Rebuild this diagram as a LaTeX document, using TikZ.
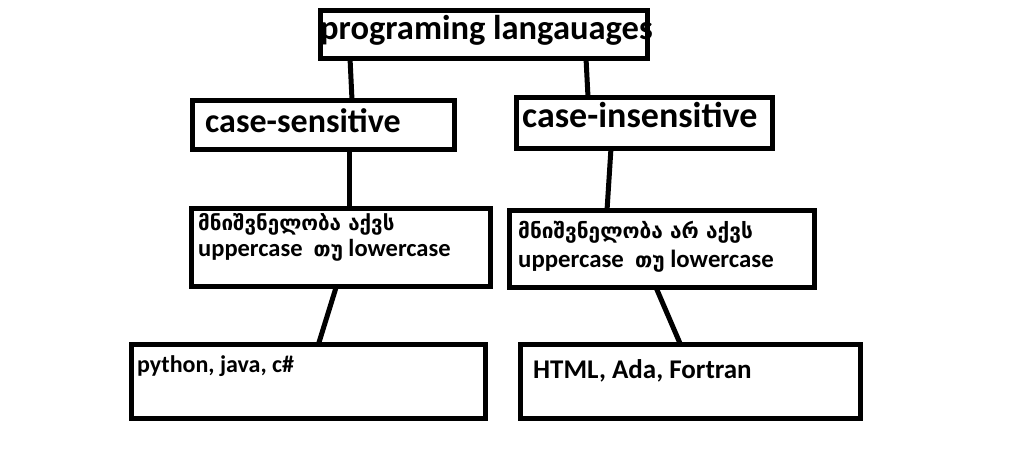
\documentclass[tikz,border=0pt]{standalone}
\usepackage{fontspec}
\setmainfont{Carlito}
\newfontfamily\geo[Scale=0.84]{DejaVu Sans}
\begin{document}
\begin{tikzpicture}[x=1pt,y=-1pt,
  box/.style={draw=black,line width=5pt,fill=white,inner sep=0pt,outer sep=0pt,minimum width=#1},
  lbl/.style={anchor=base west,inner sep=0pt,font=\bfseries},
  link/.style={draw=black,line width=5pt}]
\useasboundingbox[fill=white] (0,0) rectangle (1019,453);
% boxes
\node[box=327pt,minimum height=48pt] (top) at (483.5,34) {};
\node[box=261.5pt,minimum height=49pt] (cs) at (323.25,124.5) {};
\node[box=256.5pt,minimum height=51pt] (cis) at (644.25,122.5) {};
\node[box=299pt,minimum height=78pt] (m1) at (340.5,247) {};
\node[box=305pt,minimum height=77pt] (m2) at (661.5,249) {};
\node[box=354.5pt,minimum height=74pt] (b1) at (308.25,381) {};
\node[box=340pt,minimum height=73.5pt] (b2) at (690.5,381.25) {};
% connectors
\draw[link] ([xshift=30pt]top.south west) -- ([xshift=159.5pt]cs.north west);
\draw[link] ([xshift=266pt]top.south west) -- ([xshift=72pt]cis.north west);
\draw[link] ([xshift=156.5pt]cs.south west) -- ([xshift=158pt]m1.north west);
\draw[link] ([xshift=95pt]cis.south west) -- ([xshift=98pt]m2.north west);
\draw[link] ([xshift=145.5pt]m1.south west) -- ([xshift=187.5pt]b1.north west);
\draw[link] ([xshift=147pt]m2.south west) -- ([xshift=160pt]b2.north west);
% texts
\node[lbl,font=\bfseries\fontsize{34.5}{40}\selectfont] (ttop) at (320,39) {programing langauages};
\node[lbl,font=\bfseries\fontsize{34}{40}\selectfont] (tcs) at (205,132.5) {case-sensitive};
\node[lbl,font=\bfseries\fontsize{36}{42}\selectfont] (tcis) at (522,127) {case-insensitive};
\node[lbl,font=\bfseries\fontsize{24.5}{29}\selectfont] (tm1a) at (198,230) {\geo მნიშვნელობა აქვს};
\node[lbl,font=\bfseries\fontsize{24.5}{29}\selectfont] (tm1b) at (198,256) {uppercase\ \ {\geo თუ} lowercase};
\node[lbl,font=\bfseries\fontsize{24.8}{29}\selectfont] (tm2a) at (518,238) {\geo მნიშვნელობა არ აქვს};
\node[lbl,font=\bfseries\fontsize{24.8}{29}\selectfont] (tm2b) at (518,267) {uppercase\ \ {\geo თუ} lowercase};
\node[lbl,font=\bfseries\fontsize{24}{29}\selectfont] (tb1) at (137,372) {python, java, c\#};
\node[lbl,font=\bfseries\fontsize{27}{32}\selectfont] (tb2) at (533,378) {HTML, Ada, Fortran};
\end{tikzpicture}
\end{document}
